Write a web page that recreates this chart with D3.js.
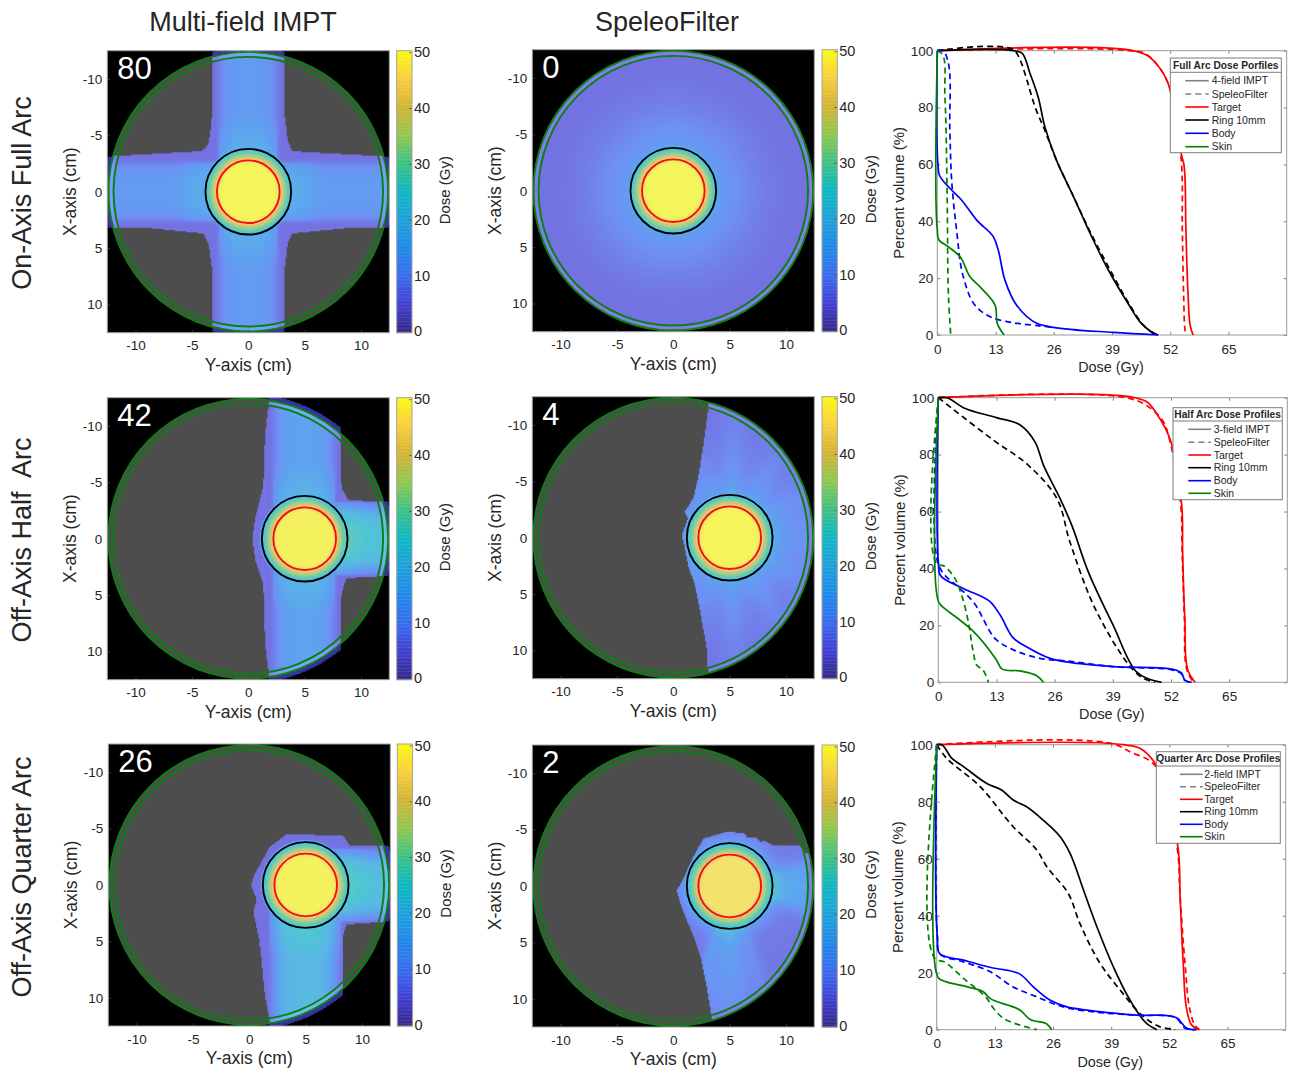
<!DOCTYPE html>
<html>
<head>
<meta charset="utf-8">
<script src="https://cdn.jsdelivr.net/npm/d3@7"></script>
<style>
  html, body { margin: 0; padding: 0; background: #fff; }
  svg { display: block; }
  text { font-family: "Liberation Sans", Arial, sans-serif; fill: #262626; }
</style>
</head>
<body>
<div id="chart"></div>
<script>
// column and row captions
const columnTitles = ["Multi-field IMPT", "SpeleoFilter"];
const rowTitles = ["On-Axis Full Arc", "Off-Axis Half  Arc", "Off-Axis Quarter Arc"];
const panelLabels = ["80", "0", "42", "4", "26", "2"];
const cmTicks = [-10, -5, 0, 5, 10];
const doseTicks = [0, 10, 20, 30, 40, 50];
const dvhDoseTicks = [0, 13, 26, 39, 52, 65];
const dvhVolumeTicks = [0, 20, 40, 60, 80, 100];

// colour bar
const barDoses = [0, 5, 10, 15, 20, 25, 30, 35, 40, 45, 50];
const barColors = ["#352a87", "#4240d4", "#3a6cf0", "#2089e8", "#1fa2da", "#0db8c2", "#3fc184", "#90c84e", "#d4b436", "#f8cf3c", "#f9fb15"];

// radii (cm) of the drawn contours
const skinOuterRadius = 12.4;
const skinInnerRadius = 11.95;
const ringRadius = 3.8;
const targetRadius = 2.78;

// dose falloff around the target, as fraction of target dose
const falloffRadii = [0, 2.4, 2.8, 3.1, 3.4, 3.8, 4.1];
const falloffFractions = [1, 1, 0.93, 0.76, 0.6, 0.46, 0];

// cross profile of a proton field: offset from beam axis (cm) -> fraction of peak
const fieldOffsets = [0, 1.2, 2.0, 2.6, 3.0, 3.3, 3.6];
const fieldFractions = [1, 0.97, 0.84, 0.56, 0.38, 0.28, 0];

// radial low-dose wash of the spot scanned arc (cm -> Gy)
const arcRadii = [3.8, 4.3, 5, 6, 8, 10, 13];
const arcFullDose = [15, 12.5, 11, 9.5, 7, 5.5, 4.8];
const arcHalfDose = [15, 12, 10, 8.5, 7, 6, 5.2];
const arcQuarterDose = [16, 10, 7.5, 6.5, 6, 5.5, 5];

// irradiated outlines, cm (Y-axis, X-axis)
const outlineFullIMPT = [[-3.2, -13], [-3.2, -7], [-3.4, -5], [-3.6, -4.1], [-4.1, -3.6], [-9.5, -3.3], [-13, -3.1], [-13, 3.2], [-9, 3.2], [-4, 3.7], [-3.5, 4.7], [-3.2, 7], [-3.2, 13], [3.2, 13], [3.2, 7], [3.5, 4.5], [3.9, 3.7], [9, 3.2], [13, 3.2], [13, -3.1], [9, -3.3], [3.9, -3.6], [3.5, -4.5], [3.2, -7], [3.2, -13]];
const outlineFullArc = [[-13, -13], [-13, 13], [13, 13], [13, -13]];
const outlineHalfIMPT = [[1.77, -13], [1.77, -11.7], [1.48, -9.2], [1.33, -4.7], [0.6, -1.8], [0.35, 0], [0.6, 1.8], [1.33, 4.1], [1.48, 9.2], [1.77, 11.7], [1.77, 13], [8.2, 13], [8.2, 9.5], [8.2, 5.5], [8.3, 4.7], [8.7, 3.5], [12.4, 3.3], [12.75, 3.3], [12.75, -3.25], [12.4, -3.25], [8.9, -3.4], [8.3, -4.4], [8.2, -5.5], [8.2, -13]];
const outlineHalfArc = [[3.1, -13], [3.1, -11.5], [2.66, -8.2], [2.2, -5.3], [1.77, -3.5], [1, -2.3], [1.3, -1.7], [0.74, -0.2], [0.9, 0.35], [1.3, 2.4], [1.9, 4.2], [2.4, 6.6], [3, 10.1], [3.1, 13], [13, 13], [13, -13]];
const outlineQuarterIMPT = [[1.83, 13], [1.83, 12.1], [1.39, 9.9], [1.1, 6.9], [0.89, 4.9], [0.35, 2.4], [0.65, 1.3], [0.15, 0], [0.5, -1], [1.83, -3.4], [3.3, -4.5], [8.3, -4.4], [8.9, -3.5], [12.75, -3.5], [12.75, 3.2], [8.6, 3.5], [8.3, 4.6], [8.3, 13]];
const outlineQuarterArc = [[3.4, 13], [3.4, 11.6], [3, 9.2], [2.5, 6.6], [1.8, 4.5], [0.74, 1.9], [0.3, 0.4], [0.74, -0.35], [1.77, -2.6], [2.66, -4.2], [4.7, -4.8], [6.2, -4.7], [6.6, -4.3], [7.4, -4.3], [7.7, -3.9], [8.1, -4], [8.9, -3.6], [11.2, -3.6], [11.7, -2.9], [13, -2.9], [13, 13]];

// IMPT fields: direction, axis position (cm), peak dose (Gy), extent along the beam (cm)
const fieldsFull = [["v", 0, 13, -13, 13], ["h", 0, 13, -13, 13]];
const fieldsHalf = [["v", 4.95, 14.5, -13, 13], ["h", 0, 23, 5, 13]];
const fieldsQuarter = [["v", 4.95, 21, 0, 13], ["h", 0, 22, 5, 13]];

// arc streaks: angle from +Y (deg, clockwise on screen), added dose (Gy), angular width (deg)
const streaksHalf = [[0, 3, 22], [-30, 2, 9], [30, 2, 9], [-60, 2, 8], [60, 2, 8], [-88, 3, 8], [88, 3, 8], [-112, 1.5, 8], [112, 1.5, 8]];
const streaksQuarter = [[0, 11, 17], [-14, 3, 5], [14, 4, 6], [90, 9, 13], [72, 3, 5], [106, 5, 6]];

// dose volume curves [Gy, %]
const fullTargetIMPT = [[0, 100], [43.7, 100], [46.8, 98.4], [49.7, 93.8], [51.4, 89], [54.6, 62.7], [55, 60.4], [55.5, 37], [56, 13.5], [56.5, 3], [57.1, 0]];
const fullTargetArc = [[0, 100], [43, 100], [46.4, 99], [49.7, 93.8], [51.4, 89], [54.4, 62.7], [54.7, 37], [55, 13.5], [55.3, 1.8], [55.5, 0]];
const fullRingIMPT = [[0, 100], [17, 100], [18.8, 99.3], [20.7, 92], [22.5, 83.8], [24, 73.3], [26.6, 61.5], [30.4, 48.7], [34.1, 35.8], [37.8, 24], [43, 10], [45.2, 4.7], [47.5, 1.4], [49.3, 0]];
const fullRingArc = [[0, 100], [17.3, 100], [18.5, 96.7], [20, 89.7], [21.8, 80.3], [24, 72], [26.6, 61.5], [30.4, 48.7], [34.1, 36.4], [37.8, 25.2], [43, 10.5], [46, 3.5], [48.6, 0]];
const fullBodyIMPT = [[0, 100], [0.15, 60], [0.45, 56.3], [2.8, 51.6], [5.4, 47.5], [8.8, 40.4], [12.5, 34.6], [13.6, 29.9], [15.1, 19.3], [17.7, 10.5], [22.2, 4.1], [25.9, 2.7], [39.3, 0.9], [49.3, 0]];
const fullBodyArc = [[0, 100], [1.3, 100], [2.3, 96.7], [2.8, 72], [3.2, 54.5], [4.3, 37], [5.8, 20.5], [8.4, 10.5], [11.8, 6.4], [17, 4.3], [22.9, 3.2], [25.9, 2.7]];
const fullSkinIMPT = [[0, 100], [0, 37], [0.3, 33.6], [2.5, 31], [5.1, 27.5], [7.3, 20.5], [9.5, 17], [12.9, 10.5], [13.4, 4], [14.9, 0]];
const fullSkinArc = [[0, 100], [1, 99], [1.7, 83.8], [2.2, 48.6], [2.5, 13.5], [3, 0]];

const halfTargetIMPT = [[0, 100], [44, 100], [46.6, 98.6], [49.5, 92.7], [51.6, 86.3], [54.4, 62.3], [54.6, 45.9], [55.1, 22.5], [55.9, 3.7], [57.4, 0]];
const halfTargetArc = [[0, 100], [42, 100], [45.8, 98], [50.3, 91.6], [51.6, 85.7], [54.2, 62.3], [54.5, 45.9], [55, 22.5], [55.7, 3.7], [57, 0]];
const halfRingIMPT = [[0, 100], [1.9, 100], [5.6, 96.5], [13, 93], [18.3, 90.4], [21.6, 84.5], [23.5, 76.3], [27.2, 64.6], [29.8, 55.3], [33.5, 38.9], [39.1, 20], [44.3, 3.7], [46.6, 1.4], [49.9, 0]];
const halfRingArc = [[0, 100], [3, 96.3], [12.3, 85.1], [20.1, 76.3], [26.5, 64.6], [29.4, 49.4], [35.4, 24.8], [43.6, 4.3], [45.8, 1.4], [48.4, 0]];
const halfBodyIMPT = [[0, 100], [0.07, 41.2], [0.4, 37.7], [5.6, 33], [11.5, 28.4], [13.8, 23.7], [16.8, 15.5], [19.7, 12.5], [25, 8.4], [29.4, 7], [39.1, 5.5], [53.3, 4.2], [54.4, 3.2], [55.1, 0.8], [56.6, 0]];
const halfBodyArc = [[0, 100], [0.07, 41.2], [1.1, 38.3], [4.8, 33], [7.8, 28.3], [13, 14.9], [16.8, 11.4], [22.7, 8.4], [28.7, 7.5], [39.1, 5.5], [52.6, 4.2], [54.2, 3.2], [55, 0.8], [56.4, 0]];
const halfSkinIMPT = [[0, 100], [0.07, 28.3], [0.4, 27.4], [4.8, 21.9], [7.5, 18.4], [13, 7.8], [14.2, 4.7], [18.3, 4], [22, 2.3], [23.5, 0]];
const halfSkinArc = [[0, 100], [0.07, 41.2], [1.1, 41], [3.7, 36.5], [5.2, 30.7], [6.7, 21.3], [7.8, 10.8], [8.6, 6], [10, 4.3], [11.2, 0]];

const quarterTargetIMPT = [[0, 100], [41.7, 100], [45.5, 98.7], [48.3, 94.6], [53.9, 64.2], [54.4, 46.7], [55.1, 23.3], [55.9, 6.9], [57, 1.6], [58.7, 0]];
const quarterTargetArc = [[0, 100], [40, 100], [43.2, 97.5], [48.3, 93.5], [53.7, 64.2], [54.4, 46.7], [55.5, 23.3], [56.6, 6.9], [57.7, 1.6], [58.7, 0]];
const quarterRingIMPT = [[0, 100], [1.1, 100], [3.4, 95.2], [6, 92.3], [11.2, 86.4], [14.5, 84.1], [17.1, 80.6], [20.1, 78.2], [23.8, 73.5], [27.6, 67.7], [29.8, 61.9], [32.8, 49], [35.8, 36.1], [39.5, 22], [43.2, 10.4], [46.9, 2.2], [49.2, 0]];
const quarterRingArc = [[0, 100], [1.9, 95.8], [9.7, 85.3], [17.1, 71.2], [22.4, 63], [24.6, 57.2], [29.4, 47.8], [32, 37.3], [36.5, 23.3], [41, 13.9], [46.2, 4.6], [49.9, 1], [53.3, 0]];
const quarterBodyIMPT = [[0, 100], [0.15, 32.6], [0.6, 26.8], [6, 24.4], [11.9, 21.9], [18.6, 19.5], [21.6, 15], [25.3, 10.4], [29.1, 8], [33.5, 6.9], [44.7, 5.1], [53.7, 4.1], [55.9, 0.5], [58.1, 0]];
const quarterBodyArc = [[0, 100], [0.15, 32.6], [0.6, 26.8], [6, 23.8], [11.9, 20.4], [17.1, 15], [22.4, 11.5], [28.3, 8], [36.5, 6], [44.7, 5.1], [53.7, 3.9], [55.5, 0.5], [57.7, 0]];
const quarterSkinIMPT = [[0, 100], [0.07, 19.2], [0.45, 18], [6.7, 15.1], [10.4, 13.3], [11.9, 11], [18.6, 6.9], [20.9, 3.6], [24.6, 2], [25.7, 0]];
const quarterSkinArc = [[0, 100], [0.07, 24.4], [1.5, 23.9], [6, 18], [11.2, 11], [12.7, 7.5], [14.9, 4], [18.6, 1.6], [22.4, 0]];

const legendFull = ["4-field IMPT", "SpeleoFilter", "Target", "Ring 10mm", "Body", "Skin"];
const legendHalf = ["3-field IMPT", "SpeleoFilter", "Target", "Ring 10mm", "Body", "Skin"];
const legendQuarter = ["2-field IMPT", "SpeleoFilter", "Target", "Ring 10mm", "Body", "Skin"];
const legendColors = ["#808080", "#808080", "#ff0000", "#000000", "#0000ff", "#008000"];

// ---------------- layout, not data
const W = 1291, H = 1071;
const MAP = 282;
const frameColor = "#a3a3a3";

const panels = [
  {left: 107.3, top: 50.7, bar: 396.7, label: 0, cx: 0, outline: outlineFullIMPT, fields: fieldsFull, target: 50},
  {left: 532.3, top: 49.7, bar: 822, label: 1, cx: 0, outline: outlineFullArc, arc: arcFullDose, streaks: [], target: 50},
  {left: 107.3, top: 397.7, bar: 396.7, label: 2, cx: 5, outline: outlineHalfIMPT, fields: fieldsHalf, target: 49.5},
  {left: 532.3, top: 396.7, bar: 822, label: 3, cx: 5, outline: outlineHalfArc, arc: arcHalfDose, streaks: streaksHalf, target: 50},
  {left: 108.3, top: 744, bar: 397.3, label: 4, cx: 5, outline: outlineQuarterIMPT, fields: fieldsQuarter, target: 49.5},
  {left: 532.3, top: 745, bar: 822, label: 5, cx: 5, outline: outlineQuarterArc, arc: arcQuarterDose, streaks: streaksQuarter, target: 47}
];

const dvhPanels = [
  {left: 937.3, top: 50.7, w: 349.4, h: 284.3, title: "Full Arc Dose Porfiles", entries: legendFull,
   box: [1170.3, 58, 111, 94.7], divider: 72.3, rows: [80.7, 94, 107, 120, 133.3, 146.7], line: [1185.3, 1208.7], text: 1211.7,
   curves: [[fullTargetIMPT, fullTargetArc], [fullRingIMPT, fullRingArc], [fullBodyIMPT, fullBodyArc], [fullSkinIMPT, fullSkinArc]]},
  {left: 938.3, top: 397.7, w: 349, h: 284.6, title: "Half Arc Dose Profiles", entries: legendHalf,
   box: [1173, 407.7, 109.3, 92], divider: 421, rows: [429.3, 442.3, 455, 467.7, 480.7, 493.3], line: [1188.3, 1211], text: 1213.7,
   curves: [[halfTargetIMPT, halfTargetArc], [halfRingIMPT, halfRingArc], [halfBodyIMPT, halfBodyArc], [halfSkinIMPT, halfSkinArc]]},
  {left: 936.7, top: 744.7, w: 349, h: 285, title: "Quarter Arc Dose Profiles", entries: legendQuarter,
   box: [1156.3, 751.7, 124, 91.6], divider: 766, rows: [774.3, 786.7, 799.3, 811.7, 824.3, 836.7], line: [1180, 1202.7], text: 1204.3,
   curves: [[quarterTargetIMPT, quarterTargetArc], [quarterRingIMPT, quarterRingArc], [quarterBodyIMPT, quarterBodyArc], [quarterSkinIMPT, quarterSkinArc]]}
];

const svg = d3.select("#chart").append("svg")
  .attr("width", W)
  .attr("height", H)
  .attr("viewBox", [0, 0, W, H]);

const barColor = d3.scaleLinear().domain(barDoses).range(barColors).clamp(true);
const falloff = d3.scaleLinear().domain(falloffRadii).range(falloffFractions).clamp(true);
const fieldShape = d3.scaleLinear().domain(fieldOffsets).range(fieldFractions).clamp(true);

function doseAt(p, px, py, arcScale) {
  const r = Math.hypot(px - p.cx, py);
  let low = 0;
  if (p.fields) {
    for (const f of p.fields) {
      const along = f[0] === "v" ? py : px;
      const across = f[0] === "v" ? px - f[1] : py - f[1];
      if (along >= f[3] && along <= f[4]) {
        low = Math.max(low, f[2] * fieldShape(Math.abs(across)));
      }
    }
    // scatter near the target only lifts the field itself
    if (low > 7) {
      low += 5 * Math.max(0, 1 - (r - 3.8) / 3.2);
    }
    low = Math.max(low, 5);
  } else {
    low = arcScale(r);
    const angle = Math.atan2(py, px - p.cx) * 180 / Math.PI;
    const fade = Math.max(0, 1 - (r - 3.8) / 16);
    for (const s of p.streaks) {
      const dAngle = (angle - s[0]) / s[2];
      low += s[1] * fade * Math.exp(-dAngle * dAngle);
    }
  }
  return Math.max(low, p.target * falloff(r));
}

// the dose map is rasterised on a 0.1 cm grid then placed as one svg image
function drawDoseMap(g, p, xScale, yScale) {
  const N = 250;
  const cell = d3.scaleLinear().domain([0, N]).range([-12.5, 12.5]);
  const canvas = document.createElement("canvas");
  canvas.width = N;
  canvas.height = N;
  const ctx = canvas.getContext("2d");
  ctx.fillStyle = "#000";
  ctx.fillRect(0, 0, N, N);
  const arcScale = p.arc ? d3.scaleLinear().domain(arcRadii).range(p.arc).clamp(true) : null;

  for (let j = 0; j < N; j++) {
    for (let i = 0; i < N; i++) {
      const px = cell(i + 0.5), py = cell(j + 0.5);
      const rBody = Math.hypot(px, py);
      const inside = d3.polygonContains(p.outline, [px, py]);
      let color = null;
      if (inside && rBody <= 12.8 && (rBody <= skinOuterRadius || !p.arc)) {
        const dose = doseAt(p, px, py, arcScale);
        if (rBody > skinOuterRadius) {
          color = d3.interpolateRgb(barColor(Math.min(dose, 3)), "#000")(0.1);
        } else if (rBody > skinInnerRadius) {
          color = d3.interpolateRgb(barColor(p.arc ? Math.min(dose, 5) : dose), "#e8e4ff")(0.38);
        } else {
          color = d3.interpolateRgb(barColor(dose), "#e8e4ff")(0.3);
        }
      } else if (rBody <= skinOuterRadius) {
        color = "#4d4d4d";
      }
      if (color) {
        ctx.fillStyle = color;
        ctx.fillRect(i, j, 1, 1);
      }
    }
  }

  g.append("image")
    .attr("x", xScale(-12.5))
    .attr("y", yScale(-12.5))
    .attr("width", MAP)
    .attr("height", MAP)
    .attr("preserveAspectRatio", "none")
    .attr("href", canvas.toDataURL());
}

function styleAxis(sel, size) {
  sel.select(".domain").remove();
  sel.selectAll(".tick line").attr("stroke", "#4a4a4a").attr("stroke-width", 0.7);
  sel.selectAll(".tick text").style("font-size", size + "px").attr("fill", "#262626");
}

function drawMapPanel(p) {
  const g = svg.append("g");
  const x = d3.scaleLinear().domain([-12.5, 12.5]).range([p.left, p.left + MAP]);
  const y = d3.scaleLinear().domain([-12.5, 12.5]).range([p.top, p.top + MAP]);

  drawDoseMap(g, p, x, y);

  // contours: skin is centred on the phantom, ring and target on the tumour
  const rings = [
    [0, skinOuterRadius, "#0c7f12", 1.9],
    [0, skinInnerRadius, "#0c7f12", 1.9],
    [p.cx, ringRadius, "#000000", 1.9],
    [p.cx, targetRadius, "#f01010", 1.9]
  ];
  rings.forEach(function(c) {
    g.append("circle")
      .attr("cx", x(c[0]))
      .attr("cy", y(0))
      .attr("r", x(c[1]) - x(0))
      .attr("fill", "none")
      .attr("stroke", c[2])
      .attr("stroke-width", c[3]);
  });

  const xAxis = g.append("g")
    .attr("transform", "translate(0," + (p.top + MAP) + ")")
    .call(d3.axisBottom(x).tickValues(cmTicks).tickFormat(String).tickSize(-3).tickPadding(8));
  styleAxis(xAxis, 13.5);

  const yAxis = g.append("g")
    .attr("transform", "translate(" + p.left + ",0)")
    .call(d3.axisLeft(y).tickValues(cmTicks).tickFormat(String).tickSize(-3).tickPadding(5));
  styleAxis(yAxis, 13.5);

  g.append("rect")
    .attr("x", p.left).attr("y", p.top)
    .attr("width", MAP).attr("height", MAP)
    .attr("fill", "none")
    .attr("stroke", frameColor)
    .attr("stroke-width", 1);

  g.append("text")
    .attr("x", p.left + 10)
    .attr("y", p.top + 28)
    .style("font-size", "31px")
    .style("fill", "#fff")
    .text(panelLabels[p.label]);

  g.append("text")
    .attr("x", p.left + MAP / 2)
    .attr("y", p.top + MAP + 38)
    .attr("text-anchor", "middle")
    .style("font-size", "17.5px")
    .text("Y-axis (cm)");

  g.append("text")
    .attr("transform", "translate(" + (p.left - 37) + "," + (p.top + MAP / 2) + ") rotate(-90)")
    .attr("text-anchor", "middle")
    .attr("dy", "0.35em")
    .style("font-size", "17.5px")
    .text("X-axis (cm)");

  // colour bar
  const barW = 15.3;
  const yDose = d3.scaleLinear().domain([0, 50]).range([p.top + MAP, p.top]);
  g.append("g").selectAll("rect")
    .data(d3.range(0, 50, 0.25))
    .join("rect")
    .attr("x", p.bar)
    .attr("y", function(d) { return yDose(d + 0.25); })
    .attr("width", barW)
    .attr("height", function(d) { return yDose(d) - yDose(d + 0.25) + 0.4; })
    .attr("fill", function(d) { return barColor(d); });

  // tick labels in the reference sit just inside the ends of the bar
  const yDoseTicks = d3.scaleLinear().domain([0, 50]).range([p.top + MAP - 1.5, p.top + 1.5]);
  const barAxis = g.append("g")
    .attr("transform", "translate(" + (p.bar + barW) + ",0)")
    .call(d3.axisRight(yDoseTicks).tickValues(doseTicks).tickSize(-3).tickPadding(2));
  styleAxis(barAxis, 14.5);

  g.append("rect")
    .attr("x", p.bar).attr("y", p.top)
    .attr("width", barW).attr("height", MAP)
    .attr("fill", "none")
    .attr("stroke", frameColor)
    .attr("stroke-width", 1);

  g.append("text")
    .attr("transform", "translate(" + (p.bar + 48.5) + "," + (p.top + MAP / 2 - 1.5) + ") rotate(-90)")
    .attr("text-anchor", "middle")
    .attr("dy", "0.35em")
    .style("font-size", "15px")
    .text("Dose (Gy)");
}

function drawDvhPanel(d) {
  const g = svg.append("g");
  const x = d3.scaleLinear().domain([0, 78]).range([d.left, d.left + d.w]);
  const y = d3.scaleLinear().domain([0, 100]).range([d.top + d.h, d.top]);
  const line = d3.line()
    .x(function(v) { return x(v[0]); })
    .y(function(v) { return y(v[1]); })
    .curve(d3.curveCatmullRom.alpha(0.7));

  const xAxis = g.append("g")
    .attr("transform", "translate(0," + (d.top + d.h) + ")")
    .call(d3.axisBottom(x).tickValues(dvhDoseTicks).tickSize(-3).tickPadding(9));
  styleAxis(xAxis, 13.5);
  const yAxis = g.append("g")
    .attr("transform", "translate(" + d.left + ",0)")
    .call(d3.axisLeft(y).tickValues(dvhVolumeTicks).tickSize(-3).tickPadding(4));
  styleAxis(yAxis, 13.5);

  // box ticks on top and right side too
  const topAxis = g.append("g")
    .attr("transform", "translate(0," + d.top + ")")
    .call(d3.axisTop(x).tickValues(dvhDoseTicks).tickSize(-3).tickFormat(""));
  styleAxis(topAxis, 13.5);
  const rightAxis = g.append("g")
    .attr("transform", "translate(" + (d.left + d.w) + ",0)")
    .call(d3.axisRight(y).tickValues(dvhVolumeTicks).tickSize(-3).tickFormat(""));
  styleAxis(rightAxis, 13.5);

  g.append("rect")
    .attr("x", d.left).attr("y", d.top)
    .attr("width", d.w).attr("height", d.h)
    .attr("fill", "none")
    .attr("stroke", "#9a9a9a")
    .attr("stroke-width", 1);

  const curveColors = ["#ff0000", "#000000", "#0000ff", "#008000"];
  d.curves.forEach(function(pair, i) {
    g.append("path")
      .attr("d", line(pair[0]))
      .attr("fill", "none")
      .attr("stroke", curveColors[i])
      .attr("stroke-width", 1.7);
    g.append("path")
      .attr("d", line(pair[1]))
      .attr("fill", "none")
      .attr("stroke", curveColors[i])
      .attr("stroke-width", 1.7)
      .attr("stroke-dasharray", "6,4");
  });

  g.append("text")
    .attr("x", d.left + d.w / 2 - 1)
    .attr("y", d.top + d.h + 37)
    .attr("text-anchor", "middle")
    .style("font-size", "14.4px")
    .text("Dose (Gy)");

  g.append("text")
    .attr("transform", "translate(" + (d.left - 38.5) + "," + (d.top + d.h / 2) + ") rotate(-90)")
    .attr("text-anchor", "middle")
    .attr("dy", "0.35em")
    .style("font-size", "15px")
    .text("Percent volume (%)");

  // legend sits over the curves
  const b = d.box;
  g.append("rect")
    .attr("x", b[0]).attr("y", b[1])
    .attr("width", b[2]).attr("height", b[3])
    .attr("fill", "#fff")
    .attr("stroke", "#7d7d7d")
    .attr("stroke-width", 1);
  g.append("line")
    .attr("x1", b[0]).attr("x2", b[0] + b[2])
    .attr("y1", d.divider).attr("y2", d.divider)
    .attr("stroke", "#7d7d7d");
  g.append("text")
    .attr("x", b[0] + b[2] / 2)
    .attr("y", (b[1] + d.divider) / 2 + 3.6)
    .attr("text-anchor", "middle")
    .style("font-size", "10.2px")
    .style("font-weight", "bold")
    .text(d.title);

  d.entries.forEach(function(name, i) {
    g.append("line")
      .attr("x1", d.line[0]).attr("x2", d.line[1])
      .attr("y1", d.rows[i]).attr("y2", d.rows[i])
      .attr("stroke", legendColors[i])
      .attr("stroke-width", 1.6)
      .attr("stroke-dasharray", i === 1 ? "6,4" : null);
    g.append("text")
      .attr("x", d.text)
      .attr("y", d.rows[i] + 3.7)
      .style("font-size", "10.5px")
      .text(name);
  });
}

panels.forEach(drawMapPanel);
dvhPanels.forEach(drawDvhPanel);

// captions
[243, 667].forEach(function(cx, i) {
  svg.append("text")
    .attr("x", cx)
    .attr("y", 31)
    .attr("text-anchor", "middle")
    .style("font-size", "27px")
    .text(columnTitles[i]);
});
[193, 540, 877].forEach(function(cy, i) {
  svg.append("text")
    .attr("transform", "translate(31," + cy + ") rotate(-90)")
    .attr("text-anchor", "middle")
    .style("font-size", "27px")
    .style("white-space", "pre")
    .text(rowTitles[i]);
});
</script>
</body>
</html>
